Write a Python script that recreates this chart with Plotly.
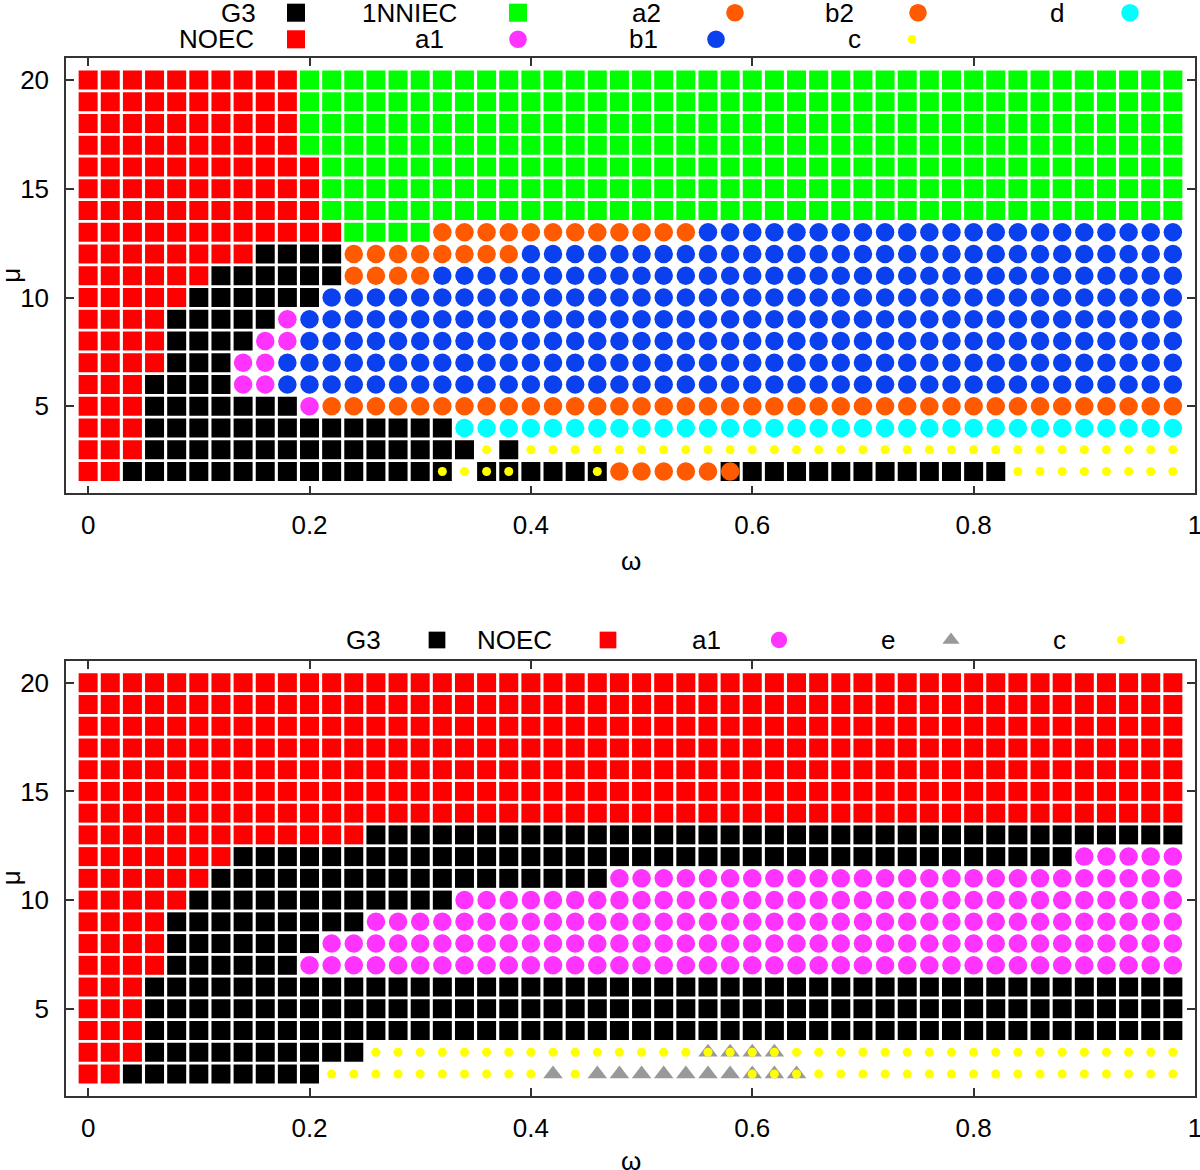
import plotly.graph_objects as go

# ---------------- data ----------------
OMEGA = [0.00, 0.02, 0.04, 0.06, 0.08, 0.10, 0.12, 0.14, 0.16, 0.18,
         0.20, 0.22, 0.24, 0.26, 0.28, 0.30, 0.32, 0.34, 0.36, 0.38,
         0.40, 0.42, 0.44, 0.46, 0.48, 0.50, 0.52, 0.54, 0.56, 0.58,
         0.60, 0.62, 0.64, 0.66, 0.68, 0.70, 0.72, 0.74, 0.76, 0.78,
         0.80, 0.82, 0.84, 0.86, 0.88, 0.90, 0.92, 0.94, 0.96, 0.98]
MU = [20, 19, 18, 17, 16, 15, 14, 13, 12, 11, 10, 9, 8, 7, 6, 5, 4, 3, 2]

# phase codes: K=G3 R=NOEC G=1NNIEC M=a1 A=a2 B=b1 P=b2 Y=c D=d E=e
# each row: run-length list of (code, number of consecutive omega points)
TOP_ROWS = {
    20: [("R", 10), ("G", 40)],
    19: [("R", 10), ("G", 40)],
    18: [("R", 10), ("G", 40)],
    17: [("R", 10), ("G", 40)],
    16: [("R", 11), ("G", 39)],
    15: [("R", 11), ("G", 39)],
    14: [("R", 11), ("G", 39)],
    13: [("R", 12), ("G", 4), ("A", 12), ("B", 22)],
    12: [("R", 8), ("K", 4), ("A", 8), ("B", 30)],
    11: [("R", 6), ("K", 6), ("A", 4), ("B", 34)],
    10: [("R", 5), ("K", 6), ("B", 39)],
    9:  [("R", 4), ("K", 5), ("M", 1), ("B", 40)],
    8:  [("R", 4), ("K", 4), ("M", 2), ("B", 40)],
    7:  [("R", 4), ("K", 3), ("M", 2), ("B", 41)],
    6:  [("R", 3), ("K", 4), ("M", 2), ("B", 41)],
    5:  [("R", 3), ("K", 7), ("M", 1), ("P", 39)],
    4:  [("R", 3), ("K", 14), ("D", 33)],
    3:  [("R", 3), ("K", 15), ("Y", 1), ("K", 1), ("Y", 30)],
    2:  [("R", 2), ("K", 15), ("Y", 1), ("K", 6), ("A", 5), ("K", 13), ("Y", 8)],
}
# extra phases coexisting at a point (drawn on top of / under the base phase)
TOP_EXTRA = [(0.32, 2, "Y"), (0.36, 2, "Y"), (0.38, 2, "Y"), (0.46, 2, "Y"), (0.58, 2, "A")]

BOTTOM_ROWS = {
    20: [("R", 50)],
    19: [("R", 50)],
    18: [("R", 50)],
    17: [("R", 50)],
    16: [("R", 50)],
    15: [("R", 50)],
    14: [("R", 50)],
    13: [("R", 13), ("K", 37)],
    12: [("R", 7), ("K", 38), ("M", 5)],
    11: [("R", 6), ("K", 18), ("M", 26)],
    10: [("R", 5), ("K", 12), ("M", 33)],
    9:  [("R", 4), ("K", 9), ("M", 37)],
    8:  [("R", 4), ("K", 7), ("M", 39)],
    7:  [("R", 4), ("K", 6), ("M", 40)],
    6:  [("R", 3), ("K", 47)],
    5:  [("R", 3), ("K", 47)],
    4:  [("R", 3), ("K", 47)],
    3:  [("R", 3), ("K", 10), ("Y", 37)],
    2:  [("R", 2), ("K", 9), ("Y", 10), ("E", 1), ("Y", 1), ("E", 7), ("Y", 20)],
}
BOTTOM_EXTRA = [(0.56, 3, "E"), (0.58, 3, "E"), (0.60, 3, "E"), (0.62, 3, "E"),
                (0.60, 2, "E"), (0.62, 2, "E"), (0.64, 2, "E")]

TOP_SERIES = ["K", "R", "G", "M", "A", "B", "P", "Y", "D"]
BOTTOM_SERIES = ["K", "R", "M", "E", "Y"]

NAMES = {"K": "G3", "R": "NOEC", "G": "1NNIEC", "M": "a1", "A": "a2",
         "B": "b1", "P": "b2", "Y": "c", "D": "d", "E": "e"}

# ---------------- styles ----------------
STYLE = {
    "K": dict(symbol="square", color="#000000", size=19),
    "R": dict(symbol="square", color="#ff0000", size=19),
    "G": dict(symbol="square", color="#00ff00", size=19),
    "M": dict(symbol="circle", color="#ff33ff", size=18.5),
    "A": dict(symbol="circle", color="#ff5a00", size=18.5),
    "B": dict(symbol="circle", color="#0a40ee", size=18.5),
    "P": dict(symbol="circle", color="#ff5a00", size=18.5),
    "Y": dict(symbol="circle", color="#ffff00", size=9),
    "D": dict(symbol="circle", color="#00ffff", size=18.5),
    "E": dict(symbol="triangle-up", color="#999999", size=17),
}

FONT = "Liberation Sans, Arial, Helvetica, sans-serif"
FS = 26
W, H = 1200, 1170
X0, X1 = 66, 1195
TOP_Y0, TOP_Y1 = 58.3, 493.3
BOT_Y0, BOT_Y1 = 661.0, 1095.7

# legend layout (pixel positions): (code, text right edge, marker x, row y)
TOP_LEGEND = [("K", 258, 296, 12.7), ("R", 256, 296, 39.3),
              ("G", 459, 518, 12.7), ("M", 446, 518, 39.3),
              ("A", 663, 735, 12.7), ("B", 660, 716, 39.3),
              ("P", 856, 918, 12.7), ("Y", 863, 912, 39.3),
              ("D", 1066, 1130, 12.7)]
BOTTOM_LEGEND = [("K", 383, 437, 640), ("R", 554, 608, 640), ("M", 723, 779, 640),
                 ("E", 897, 951, 640), ("Y", 1068, 1121, 640)]

fig = go.Figure()


def add_panel(rows, extra, order, xa, ya):
    pts = {c: ([], []) for c in order}
    for mu in MU:
        i = 0
        for code, n in rows[mu]:
            for _ in range(n):
                pts[code][0].append(OMEGA[i])
                pts[code][1].append(mu)
                i += 1
    for w, mu, code in extra:
        pts[code][0].append(w)
        pts[code][1].append(mu)
    for code in order:
        st = STYLE[code]
        fig.add_trace(go.Scatter(
            x=pts[code][0], y=pts[code][1], mode="markers", name=NAMES[code],
            marker=dict(symbol=st["symbol"], size=st["size"], color=st["color"],
                        line=dict(width=0)),
            xaxis=xa, yaxis=ya, showlegend=False, hoverinfo="skip"))


add_panel(TOP_ROWS, TOP_EXTRA, TOP_SERIES, "x", "y")
add_panel(BOTTOM_ROWS, BOTTOM_EXTRA, BOTTOM_SERIES, "x2", "y2")

annotations = []


def add_legend(entries, small):
    for code, tx, mx, my in entries:
        st = STYLE[code]
        sz = st["size"] * (0.88 if small else 0.95)
        fig.add_trace(go.Scatter(
            x=[mx], y=[my], mode="markers",
            marker=dict(symbol=st["symbol"], size=sz, color=st["color"], line=dict(width=0)),
            xaxis="x3", yaxis="y3", showlegend=False, hoverinfo="skip"))
        annotations.append(dict(x=tx, y=my, xref="x3", yref="y3", text=NAMES[code],
                                showarrow=False, xanchor="right", yanchor="middle",
                                font=dict(family=FONT, size=FS, color="black")))


add_legend(TOP_LEGEND, False)
add_legend(BOTTOM_LEGEND, True)

# axis titles
for yc, ymid in ((561, (TOP_Y0 + TOP_Y1) / 2), (1161, (BOT_Y0 + BOT_Y1) / 2)):
    annotations.append(dict(x=(X0 + X1) / 2, y=yc, xref="x3", yref="y3", text="ω",
                            showarrow=False, xanchor="center", yanchor="middle",
                            font=dict(family=FONT, size=FS, color="black")))
    annotations.append(dict(x=11, y=ymid, xref="x3", yref="y3", text="μ", textangle=-90,
                            showarrow=False, xanchor="center", yanchor="middle",
                            font=dict(family=FONT, size=FS, color="black")))

axis_common = dict(showgrid=False, zeroline=False, showline=True, linecolor="#333333",
                   linewidth=1.5, mirror="ticks", ticks="inside", ticklen=8, tickwidth=1.5,
                   tickcolor="#333333", tickfont=dict(family=FONT, size=FS, color="black"),
                   fixedrange=True, automargin=False, ticklabeloverflow="allow")

XT = [0, 0.2, 0.4, 0.6, 0.8, 1.0]
XTT = ["0", "0.2", "0.4", "0.6", "0.8", "1"]
YT = [5, 10, 15, 20]
YTT = ["5", "10", "15", "20"]

xdom = [X0 / W, X1 / W]
fig.update_layout(
    width=W, height=H, autosize=False,
    margin=dict(l=0, r=0, t=0, b=0),
    paper_bgcolor="white", plot_bgcolor="rgba(0,0,0,0)",
    showlegend=False,
    xaxis=dict(domain=xdom, anchor="y", range=[-0.02, 1.0], tickvals=XT, ticktext=XTT,
               ticklabelstandoff=8, **axis_common),
    yaxis=dict(domain=[1 - TOP_Y1 / H, 1 - TOP_Y0 / H], anchor="x", range=[1, 21],
               tickvals=YT, ticktext=YTT, ticklabelstandoff=10, **axis_common),
    xaxis2=dict(domain=xdom, anchor="y2", range=[-0.02, 1.0], tickvals=XT, ticktext=XTT,
                ticklabelstandoff=8, **axis_common),
    yaxis2=dict(domain=[1 - BOT_Y1 / H, 1 - BOT_Y0 / H], anchor="x2", range=[1, 21],
                tickvals=YT, ticktext=YTT, ticklabelstandoff=10, **axis_common),
    xaxis3=dict(domain=[0, 1], anchor="y3", range=[0, W], visible=False, fixedrange=True),
    yaxis3=dict(domain=[0, 1], anchor="x3", range=[H, 0], visible=False, fixedrange=True),
    annotations=annotations,
)

fig.write_html("out.html", config={"displayModeBar": False},
               post_script="document.body.style.margin='0px';")
